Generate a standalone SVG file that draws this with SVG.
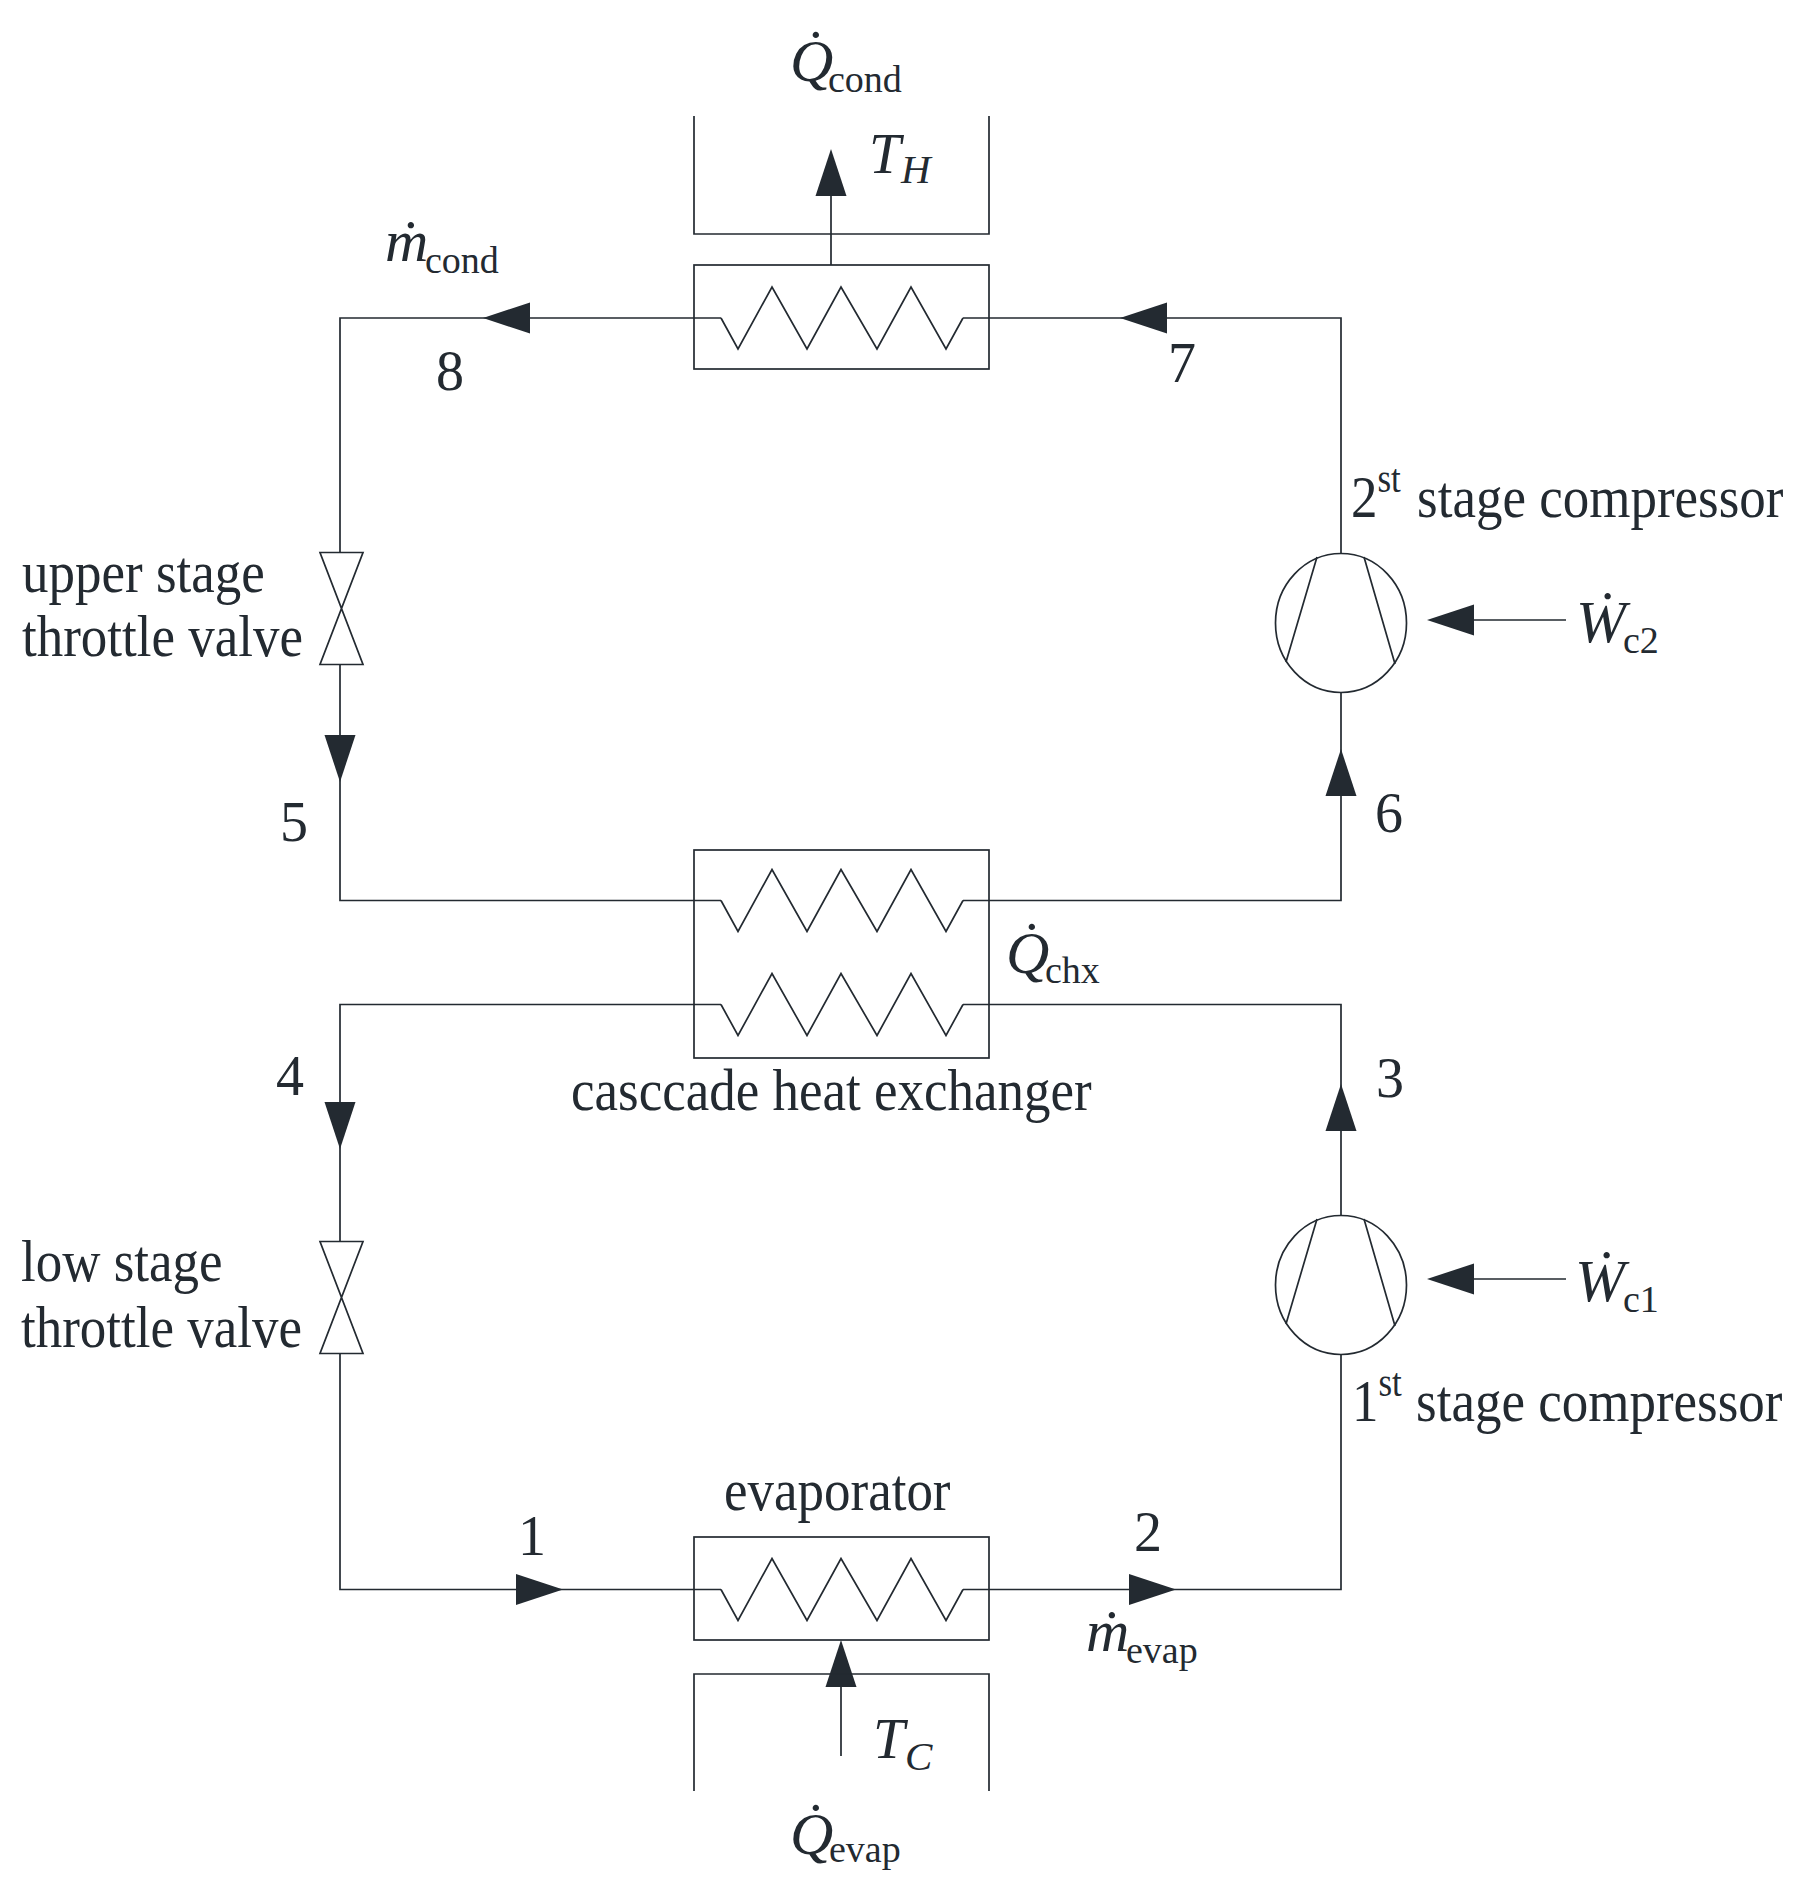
<svg xmlns="http://www.w3.org/2000/svg" xmlns:xlink="http://www.w3.org/1999/xlink" width="1807" height="1894" viewBox="0 0 1807 1894">
<style>
.l{fill:none;stroke:#232a31;stroke-width:1.7;stroke-linejoin:miter}
.h{fill:#232a31;stroke:none}
text{fill:#232a31;font-family:"Liberation Serif","Times New Roman",serif}
.m{font-size:53px}
.d{font-size:56px}
.v{font-size:60px;font-style:italic}
.t{font-size:57px;font-style:italic}
.s{font-size:38px;font-style:normal}
.si{font-size:41px;font-style:italic}
.u{font-size:35px}
</style>
<defs>
<path id="ah" d="M0 0L-47 -15.500L-47 15.500Z"/>
<path id="coil" d="M0 0L17 31L51 -31L86 31L120 -31L156 31L190 -31L225 31L242 0"/>
<g id="valve"><path d="M-21 -56H22L-21 56H22Z"/></g>
<g id="comp"><ellipse cx="0" cy="0" rx="65.500" ry="69.500"/><path d="M-24 -66L-55 39M23 -66L54 41"/></g>
</defs>
<rect width="1807" height="1894" fill="#fff"/>
<g id="connectors">
<path class="l" d="M721 318H340V552M340 665V900.500H721M721 1004.500H340V1241M340 1354V1589.500H721"/>
<path class="l" d="M963 318H1341V553M1341 692V900.500H963M963 1004.500H1341V1216M1341 1354V1589.500H963"/>
<path class="l" d="M831 265V196M841 1756V1687M1474 620H1566M1474 1279H1566"/>
<use class="h" xlink:href="#ah" href="#ah" transform="translate(831 149) rotate(-90)"/>
<use class="h" xlink:href="#ah" href="#ah" transform="translate(483 318) rotate(180)"/>
<use class="h" xlink:href="#ah" href="#ah" transform="translate(1120 318) rotate(180)"/>
<use class="h" xlink:href="#ah" href="#ah" transform="translate(340 782) rotate(90)"/>
<use class="h" xlink:href="#ah" href="#ah" transform="translate(340 1149) rotate(90)"/>
<use class="h" xlink:href="#ah" href="#ah" transform="translate(1341 749) rotate(-90)"/>
<use class="h" xlink:href="#ah" href="#ah" transform="translate(1341 1084) rotate(-90)"/>
<use class="h" xlink:href="#ah" href="#ah" transform="translate(1427 620) rotate(180)"/>
<use class="h" xlink:href="#ah" href="#ah" transform="translate(1427 1279) rotate(180)"/>
<use class="h" xlink:href="#ah" href="#ah" transform="translate(563 1589.500)"/>
<use class="h" xlink:href="#ah" href="#ah" transform="translate(1176 1589.500)"/>
<use class="h" xlink:href="#ah" href="#ah" transform="translate(841 1640) rotate(-90)"/>
</g>
<g id="condenser">
<rect class="l" x="694" y="265" width="295" height="104"/>
<use class="l" xlink:href="#coil" href="#coil" transform="translate(721 318)"/>
<path class="l" d="M694 116V234H989V116"/>
<text class="t" x="869" y="173">T<tspan class="si" x="901" y="183">H</tspan></text>
<text class="v" x="790" y="81">Q̇<tspan class="s" x="828" y="92">cond</tspan></text>
</g>
<g id="cascade-hx">
<rect class="l" x="694" y="850" width="295" height="208"/>
<use class="l" xlink:href="#coil" href="#coil" transform="translate(721 900.500)"/>
<use class="l" xlink:href="#coil" href="#coil" transform="translate(721 1004.500)"/>
<text class="v" x="1006" y="973">Q̇<tspan class="s" x="1045" y="983">chx</tspan></text>
<text class="m" transform="translate(571 1110) scale(1 1.12)">casccade heat exchanger</text>
</g>
<g id="evaporator">
<rect class="l" x="694" y="1537" width="295" height="103"/>
<use class="l" xlink:href="#coil" href="#coil" transform="translate(721 1589.500)"/>
<path class="l" d="M694 1791V1674H989V1791"/>
<text class="m" transform="translate(724 1510) scale(1 1.12)">evaporator</text>
<text class="t" x="873" y="1758">T<tspan class="si" x="905" y="1770">C</tspan></text>
<text class="v" x="790" y="1854">Q̇<tspan class="s" x="829" y="1862">evap</tspan></text>
</g>
<g id="upper-valve">
<use class="l" xlink:href="#valve" href="#valve" transform="translate(341 608.500)"/>
<text class="m" transform="translate(22 592) scale(1 1.12)">upper stage</text>
<text class="m" transform="translate(22 656) scale(1 1.12)">throttle valve</text>
</g>
<g id="low-valve">
<use class="l" xlink:href="#valve" href="#valve" transform="translate(341 1297.500)"/>
<text class="m" transform="translate(21 1281) scale(1 1.12)">low stage</text>
<text class="m" transform="translate(21 1347) scale(1 1.12)">throttle valve</text>
</g>
<g id="compressor-2">
<use class="l" xlink:href="#comp" href="#comp" transform="translate(1341 623)"/>
<text class="m" transform="translate(1351 517) scale(1 1.12)">2<tspan class="u" dy="-22">st</tspan><tspan dy="22" dx="3"> stage compressor</tspan></text>
<text class="v" x="1576" y="642">Ẇ<tspan class="s" x="1623" y="653">c2</tspan></text>
</g>
<g id="compressor-1">
<use class="l" xlink:href="#comp" href="#comp" transform="translate(1341 1285)"/>
<text class="m" transform="translate(1352 1421) scale(1 1.12)">1<tspan class="u" dy="-22">st</tspan><tspan dy="22" dx="1"> stage compressor</tspan></text>
<text class="v" x="1575" y="1301">Ẇ<tspan class="s" x="1623" y="1312">c1</tspan></text>
</g>
<g id="labels">
<text class="d" x="518" y="1555">1</text>
<text class="d" x="1134" y="1551">2</text>
<text class="d" x="1376" y="1097">3</text>
<text class="d" x="276" y="1095">4</text>
<text class="d" x="280" y="841">5</text>
<text class="d" x="1375" y="832">6</text>
<text class="d" x="1168" y="382">7</text>
<text class="d" x="436" y="390">8</text>
<text class="v" x="385" y="261">ṁ<tspan class="s" x="425" y="273">cond</tspan></text>
<text class="v" x="1086" y="1651">ṁ<tspan class="s" x="1126" y="1663">evap</tspan></text>
</g>
</svg>
